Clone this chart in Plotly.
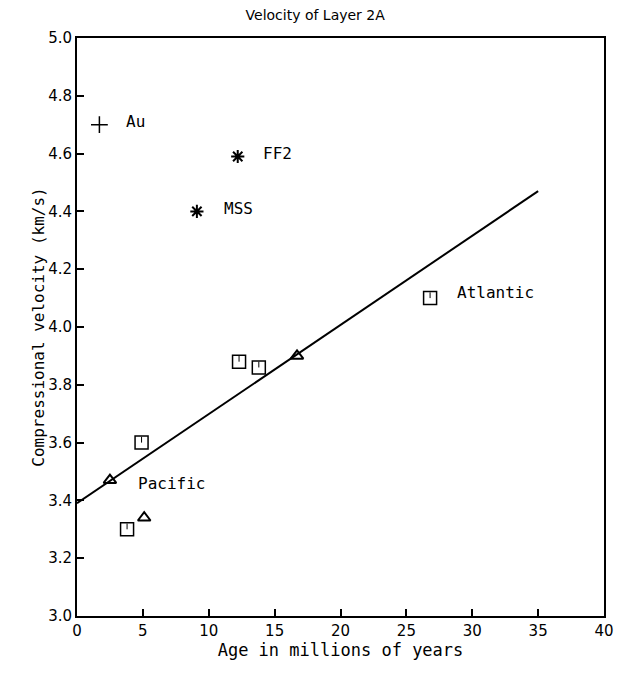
import plotly.graph_objects as go

# Data
au_x = [1.7]; au_y = [4.70]
star_x = [12.2, 9.1]; star_y = [4.59, 4.40]
sq_x = [4.9, 3.8, 12.3, 13.8, 26.8]
sq_y = [3.60, 3.30, 3.88, 3.86, 4.10]
tri_x = [2.5, 5.1, 16.7]
tri_y = [3.47, 3.34, 3.90]
fit_x = [0, 35]
fit_y = [3.39, 4.47]
labels = ["Au", "FF2", "MSS", "Pacific", "Atlantic"]
label_x = [3.6, 14.0, 11.0, 4.5, 28.7]
label_y = [4.71, 4.60, 4.41, 3.46, 4.12]

MONO = "DejaVu Sans Mono"
SANS = "DejaVu Sans"
TICK_MARK = 0.02  # small inner tick drawn in each square symbol

fig = go.Figure()
fig.add_trace(go.Scatter(x=fit_x, y=fit_y, mode="lines",
                         line=dict(color="black", width=2), hoverinfo="skip"))
fig.add_trace(go.Scatter(x=au_x, y=au_y, mode="markers",
                         marker=dict(symbol="cross-thin-open", size=12, color="black",
                                     line=dict(color="black", width=1.5))))
fig.add_trace(go.Scatter(x=star_x, y=star_y, mode="markers",
                         marker=dict(symbol="asterisk-open", size=11, color="black",
                                     line=dict(color="black", width=2))))
fig.add_trace(go.Scatter(x=sq_x, y=sq_y, mode="markers",
                         marker=dict(symbol="square-open", size=13, color="black",
                                     line=dict(color="black", width=1.5)),
                         error_y=dict(type="data", symmetric=False,
                                      array=[TICK_MARK] * len(sq_x),
                                      arrayminus=[0] * len(sq_x),
                                      width=0, thickness=1, color="black")))
fig.add_trace(go.Scatter(x=tri_x, y=tri_y, mode="markers",
                         marker=dict(symbol="triangle-up-open", size=11, color="black",
                                     line=dict(color="black", width=2))))

for t, x, y in zip(labels, label_x, label_y):
    fig.add_annotation(x=x, y=y, text=t, showarrow=False, xanchor="left",
                       yanchor="middle", font=dict(family=MONO, size=16, color="black"))

fig.update_layout(
    width=618, height=675,
    margin=dict(l=77, r=14, t=38, b=59),
    plot_bgcolor="white", paper_bgcolor="white",
    showlegend=False,
    font=dict(family=SANS, size=15, color="black"),
    title=dict(text="Velocity of Layer 2A", x=0.51, xanchor="center",
               y=0.977, yanchor="middle", font=dict(family=SANS, size=14, color="black")),
)
fig.update_xaxes(range=[0, 40], tickvals=list(range(0, 41, 5)),
                 ticks="inside", ticklen=7, tickwidth=1.5, tickcolor="black",
                 showline=True, linecolor="black", linewidth=2, mirror=True,
                 showgrid=False, zeroline=False, automargin=False,
                 tickfont=dict(family=SANS, size=15),
                 title=dict(text="Age in millions of years", standoff=5,
                            font=dict(family=MONO, size=17)))
fig.update_yaxes(range=[3.0, 5.0], tickvals=[3.0 + 0.2 * i for i in range(11)],
                 tickformat=".1f",
                 ticks="inside", ticklen=7, tickwidth=1.5, tickcolor="black",
                 showline=True, linecolor="black", linewidth=2, mirror=True,
                 showgrid=False, zeroline=False, automargin=False,
                 tickfont=dict(family=SANS, size=15),
                 title=dict(text="Compressional velocity (km/s)", standoff=0,
                            font=dict(family=MONO, size=16)))

fig.write_html("out.html", config={"displayModeBar": False},
               post_script="document.body.style.margin='0';document.body.style.overflow='hidden';")
